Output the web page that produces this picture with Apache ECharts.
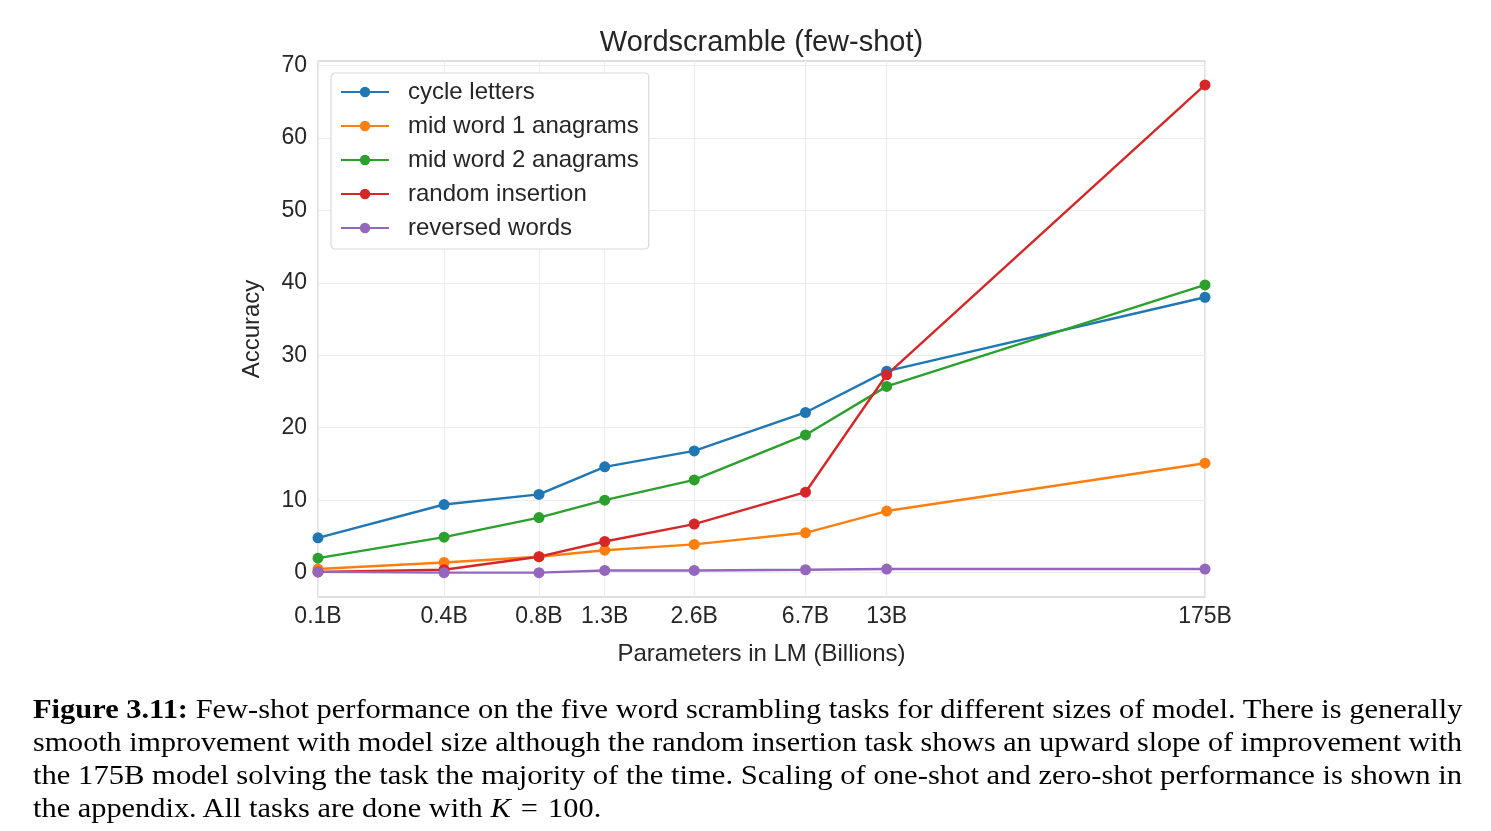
<!DOCTYPE html>
<html>
<head>
<meta charset="utf-8">
<script src="https://cdn.jsdelivr.net/npm/echarts@6/dist/echarts.min.js"></script>
<style>
  html, body { margin: 0; padding: 0; background: #fff; }
  #chart { position: absolute; left: 0; top: 0; width: 1491px; height: 831px; }
  #caption {
    position: absolute; left: 33px; top: 692px; width: 1429px;
    font-family: 'Liberation Serif', 'Times New Roman', serif;
    font-size: 27.5px; line-height: 33px; color: #000;
  }
  #caption .ln { height: 33px; white-space: nowrap; }
  #caption .ln span { display: inline-block; transform-origin: 0 0; }
</style>
</head>
<body>
<div id="chart"></div>
<div id="caption">
  <div class="ln"><span><b>Figure 3.11:</b> Few-shot performance on the five word scrambling tasks for different sizes of model. There is generally</span></div>
  <div class="ln"><span>smooth improvement with model size although the random insertion task shows an upward slope of improvement with</span></div>
  <div class="ln"><span>the 175B model solving the task the majority of the time. Scaling of one-shot and zero-shot performance is shown in</span></div>
  <div class="ln"><span>the appendix. All tasks are done with <i>K</i>&nbsp;&#8202;=&#8202;&nbsp;100.</span></div>
</div>
<script>
// model sizes in billions and the labels used on the x axis
var params = [0.125, 0.35, 0.76, 1.3, 2.7, 6.7, 13, 175];
var paramLabels = ['0.1B', '0.4B', '0.8B', '1.3B', '2.6B', '6.7B', '13B', '175B'];
var yTicks = [0, 10, 20, 30, 40, 50, 60, 70];

var seriesNames = ['cycle letters', 'mid word 1 anagrams', 'mid word 2 anagrams', 'random insertion', 'reversed words'];
var cycleLetters = [4.8, 9.4, 10.8, 14.6, 16.8, 22.1, 27.8, 38.0];
var midWord1 = [0.5, 1.4, 2.2, 3.1, 3.9, 5.5, 8.5, 15.1];
var midWord2 = [2.0, 4.9, 7.6, 10.0, 12.8, 19.0, 25.7, 39.7];
var randomInsertion = [0.1, 0.4, 2.2, 4.3, 6.7, 11.1, 27.3, 67.3];
var reversedWords = [0.1, 0.0, 0.0, 0.3, 0.3, 0.4, 0.5, 0.5];

var colors = ['#1f77b4', '#ff7f0e', '#2ca02c', '#d62728', '#9467bd'];
var textColor = '#262626';
var font = 'Liberation Sans, Arial, sans-serif';

// x axis is logarithmic in model size
var logX = params.map(function (p) { return Math.log10(p); });

function labelFor(v) {
  var best = 0;
  for (var i = 1; i < logX.length; i++) {
    if (Math.abs(logX[i] - v) < Math.abs(logX[best] - v)) best = i;
  }
  return paramLabels[best];
}

function makeSeries(name, values, color) {
  return {
    name: name,
    type: 'line',
    data: values.map(function (v, i) { return [logX[i], v]; }),
    symbol: 'circle',
    symbolSize: 11,
    showSymbol: true,
    lineStyle: { width: 2.4, color: color },
    itemStyle: { color: color },
    emphasis: { disabled: true },
    animation: false
  };
}

var chart = echarts.init(document.getElementById('chart'));
chart.setOption({
  animation: false,
  title: {
    text: 'Wordscramble (few-shot)',
    left: 756.5,
    top: 23,
    textAlign: 'center',
    textStyle: { fontFamily: font, fontSize: 29, fontWeight: 'normal', color: textColor }
  },
  grid: {
    left: 318, right: 286, top: 61, bottom: 234,
    show: true, borderColor: '#d4d4d4', borderWidth: 1.3, backgroundColor: '#fff'
  },
  legend: {
    orient: 'vertical',
    left: 331, top: 73,
    padding: [7, 10, 9, 9],
    itemWidth: 48, itemHeight: 13, itemGap: 10,
    backgroundColor: '#fff',
    borderColor: '#d9d9d9', borderWidth: 1.2, borderRadius: 4,
    textStyle: { fontFamily: font, fontSize: 24, color: textColor, padding: [0, 0, 0, 14] },
    data: seriesNames
  },
  xAxis: {
    type: 'value',
    min: logX[0],
    max: logX[logX.length - 1],
    name: 'Parameters in LM (Billions)',
    nameLocation: 'middle',
    nameGap: 45,
    nameTextStyle: { fontFamily: font, fontSize: 24, color: textColor },
    axisLine: { show: false },
    axisTick: { show: false, customValues: logX },
    axisLabel: {
      customValues: logX,
      margin: 8,
      fontFamily: font, fontSize: 23, color: textColor,
      formatter: function (v) { return labelFor(v); }
    },
    splitLine: { show: true, lineStyle: { color: '#ececec', width: 1.2 } }
  },
  yAxis: {
    type: 'value',
    min: -3.36,
    max: 70.6,
    name: 'Accuracy',
    nameLocation: 'middle',
    nameGap: 54,
    nameTextStyle: { fontFamily: font, fontSize: 24, color: textColor },
    axisLine: { show: false },
    axisTick: { show: false, customValues: yTicks },
    axisLabel: {
      customValues: yTicks,
      margin: 11,
      fontFamily: font, fontSize: 23, color: textColor
    },
    splitLine: { show: true, lineStyle: { color: '#ececec', width: 1.2 } }
  },
  series: [
    makeSeries(seriesNames[0], cycleLetters, colors[0]),
    makeSeries(seriesNames[1], midWord1, colors[1]),
    makeSeries(seriesNames[2], midWord2, colors[2]),
    makeSeries(seriesNames[3], randomInsertion, colors[3]),
    makeSeries(seriesNames[4], reversedWords, colors[4])
  ]
});

// stretch the full caption lines to the column width, last line uses the mean stretch
var spans = document.querySelectorAll('#caption .ln span');
var total = 0;
for (var i = 0; i < spans.length - 1; i++) {
  var s = 1429 / spans[i].offsetWidth;
  total += s;
  spans[i].style.transform = 'scaleX(' + s + ')';
}
spans[spans.length - 1].style.transform = 'scaleX(' + (total / (spans.length - 1)) + ')';
</script>
</body>
</html>
